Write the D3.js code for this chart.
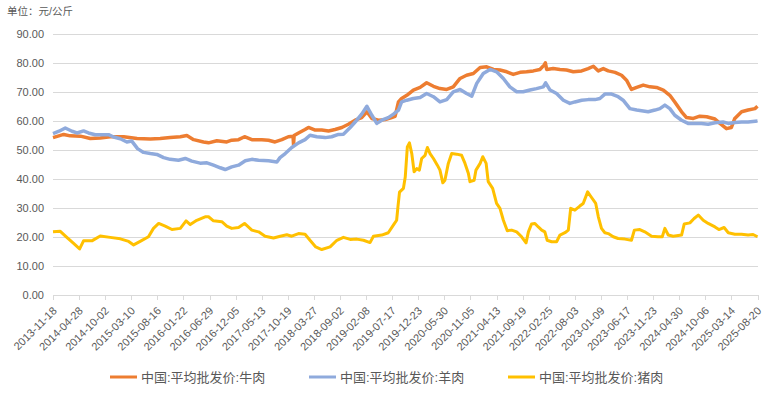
<!DOCTYPE html>
<html>
<head>
<meta charset="utf-8">
<script src="https://cdn.jsdelivr.net/npm/d3@7"></script>
<style>
    body { margin: 0; background: #fff; }
    text { font-family: "Liberation Sans", "Noto Sans CJK SC", sans-serif; fill: #595959; }
</style>
</head>
<body>
<script>

// tick labels on the category axis (one label every ~110 trading days)
var dateLabels = ["2013-11-18", "2014-04-28", "2014-10-02", "2015-03-10", "2015-08-16", "2016-01-22",
    "2016-06-29", "2016-12-05", "2017-05-13", "2017-10-19", "2018-03-27", "2018-09-02", "2019-02-08",
    "2019-07-17", "2019-12-23", "2020-05-30", "2020-11-05", "2021-04-13", "2021-09-19", "2022-02-25",
    "2022-08-03", "2023-01-09", "2023-06-17", "2023-11-23", "2024-04-30", "2024-10-06", "2025-03-14",
    "2025-08-20"];

var yTicks = [0, 10, 20, 30, 40, 50, 60, 70, 80, 90];

var seriesNames = ["中国:平均批发价:牛肉", "中国:平均批发价:羊肉", "中国:平均批发价:猪肉"];
var seriesColors = ["#ED7D31", "#8FAADC", "#FFC000"];

// [position in label steps, price]
var beef = [[0,54.1],[0.41,55.2],[0.66,54.7],[1.05,54.6],[1.43,53.8],[1.81,54.0],[2.19,54.4],[2.71,54.4],
    [3.22,53.8],[3.73,53.6],[4.11,53.8],[4.49,54.1],[4.88,54.4],[5.13,54.8],[5.39,53.4],[5.77,52.6],[5.96,52.3],
    [6.28,53.0],[6.66,52.6],[6.85,53.2],[7.11,53.4],[7.34,54.4],[7.62,53.4],[8.00,53.4],[8.26,53.2],[8.51,52.6],
    [8.77,53.4],[9.02,54.4],[9.20,54.6],[9.22,51.5],[9.24,54.8],[9.41,55.7],[9.66,56.9],[9.79,57.6],[10.05,56.7],
    [10.30,56.7],[10.56,56.4],[10.81,56.9],[11.07,57.6],[11.32,58.7],[11.58,60.1],[11.83,61.0],[12.03,63.0],
    [12.22,60.7],[12.47,60.1],[12.73,60.3],[12.98,61.0],[13.11,61.4],[13.24,66.4],[13.36,67.6],[13.56,68.7],
    [13.81,70.5],[14.07,71.4],[14.32,73.0],[14.58,71.8],[14.83,71.0],[15.09,70.7],[15.34,71.6],[15.60,74.5],
    [15.85,75.6],[16.11,76.2],[16.37,78.3],[16.62,78.5],[16.88,77.6],[17.13,77.4],[17.39,76.8],[17.64,75.9],
    [17.90,76.6],[18.15,76.8],[18.41,77.1],[18.66,77.6],[18.82,79.1],[18.87,79.9],[18.92,77.6],[19.17,77.9],
    [19.43,77.6],[19.68,77.4],[19.94,76.8],[20.26,77.1],[20.51,77.9],[20.71,78.7],[20.90,77.1],[21.09,77.9],
    [21.28,77.1],[21.54,76.6],[21.79,75.6],[21.98,73.9],[22.17,70.7],[22.37,71.4],[22.62,72.2],[22.88,71.6],
    [23.13,71.4],[23.39,70.5],[23.64,68.7],[23.83,66.4],[24.09,63.0],[24.28,61.0],[24.54,60.7],[24.79,61.5],
    [25.05,61.3],[25.37,60.5],[25.56,59.0],[25.81,57.2],[26.00,57.6],[26.13,60.7],[26.39,63.0],[26.64,63.6],
    [26.90,64.1],[27,64.9]];

var mutton = [[0,55.5],[0.23,56.3],[0.47,57.4],[0.73,56.3],[0.92,55.7],[1.17,56.4],[1.36,55.7],[1.62,55.1],
    [1.94,55.1],[2.13,55.1],[2.32,54.3],[2.58,53.7],[2.83,52.6],[3.02,52.9],[3.24,50.3],[3.47,49.0],[3.73,48.6],
    [3.98,48.3],[4.24,47.2],[4.49,46.6],[4.81,46.3],[5.07,46.9],[5.32,46.0],[5.64,45.3],[5.90,45.4],[6.15,44.6],
    [6.41,43.7],[6.60,43.1],[6.85,44.0],[7.11,44.6],[7.37,46.1],[7.62,46.6],[7.88,46.3],[8.26,46.1],[8.58,45.7],
    [8.70,47.2],[8.90,48.6],[9.15,50.7],[9.41,52.3],[9.66,53.4],[9.85,54.9],[10.11,54.4],[10.43,54.1],
    [10.68,54.4],[10.94,55.2],[11.13,55.3],[11.39,57.6],[11.64,60.1],[11.83,62.2],[12.03,64.9],[12.22,61.8],
    [12.41,59.0],[12.60,60.1],[12.85,61.0],[13.05,62.2],[13.24,63.6],[13.36,66.4],[13.56,67.0],[13.81,67.6],
    [14.07,67.9],[14.32,69.3],[14.58,68.2],[14.83,66.4],[15.09,67.2],[15.34,69.9],[15.60,70.7],[15.85,69.3],
    [16.05,68.4],[16.24,72.8],[16.49,76.2],[16.75,77.6],[17.00,76.8],[17.26,74.5],[17.51,71.6],[17.77,69.9],
    [18.02,69.9],[18.28,70.5],[18.53,71.0],[18.79,71.6],[18.88,73.0],[19.05,70.5],[19.30,69.3],[19.56,67.0],
    [19.81,65.9],[20.00,66.4],[20.26,67.0],[20.51,67.2],[20.77,67.2],[20.96,67.6],[21.15,69.1],[21.41,69.1],
    [21.66,68.2],[21.85,67.0],[22.11,64.1],[22.37,63.6],[22.62,63.3],[22.81,63.0],[23.07,63.6],[23.26,64.1],
    [23.45,65.3],[23.64,64.1],[23.83,61.8],[24.09,60.1],[24.34,59.0],[24.60,59.0],[24.85,59.0],[25.11,58.7],
    [25.37,59.2],[25.68,59.5],[25.88,59.0],[26.13,59.3],[26.39,59.5],[26.64,59.5],[27,59.8]];

var pork = [[0,21.6],[0.28,21.8],[0.53,19.7],[0.79,17.6],[1.02,15.7],[1.17,18.5],[1.49,18.5],[1.81,20.2],
    [2.19,19.7],[2.58,19.2],[2.90,18.3],[3.09,17.1],[3.34,18.3],[3.66,19.9],[3.85,22.8],[4.05,24.5],[4.30,23.6],
    [4.56,22.4],[4.88,22.8],[5.10,25.4],[5.26,24.1],[5.51,25.6],[5.83,26.8],[5.96,26.8],[6.15,25.4],[6.47,25.1],
    [6.66,23.6],[6.85,22.8],[7.11,23.1],[7.34,24.5],[7.62,22.2],[7.88,21.6],[8.13,20.1],[8.45,19.5],[8.71,20.1],
    [8.96,20.6],[9.15,20.1],[9.41,21.0],[9.66,20.8],[9.85,18.7],[10.07,16.4],[10.30,15.5],[10.62,16.4],
    [10.88,18.7],[11.13,19.7],[11.39,19.0],[11.64,19.1],[11.90,18.7],[12.15,17.9],[12.28,20.1],[12.60,20.5],
    [12.85,21.3],[13.05,24.0],[13.17,25.6],[13.22,30.2],[13.28,35.3],[13.43,36.6],[13.50,40.5],[13.58,50.9],
    [13.66,52.3],[13.75,48.6],[13.84,42.3],[13.94,43.4],[14.04,42.9],[14.13,46.9],[14.26,48.0],[14.35,50.7],
    [14.45,48.6],[14.58,46.9],[14.73,44.6],[14.83,42.9],[14.94,38.5],[15.02,39.4],[15.15,45.2],[15.28,48.6],
    [15.47,48.4],[15.66,48.0],[15.79,45.2],[15.92,41.7],[15.98,38.9],[16.14,39.4],[16.21,42.9],[16.37,45.2],
    [16.47,47.5],[16.60,45.2],[16.68,38.9],[16.85,36.6],[17.00,31.4],[17.13,29.7],[17.26,25.6],[17.41,22.0],
    [17.58,22.2],[17.77,21.6],[17.96,19.9],[18.13,17.8],[18.22,21.6],[18.34,24.3],[18.47,24.5],[18.60,23.3],
    [18.73,22.2],[18.85,21.6],[18.94,18.7],[19.11,18.2],[19.30,18.2],[19.43,20.5],[19.62,21.3],[19.75,22.2],
    [19.84,29.7],[20.00,29.1],[20.19,30.5],[20.32,31.4],[20.49,35.4],[20.62,33.7],[20.80,31.4],[20.90,26.8],
    [21.02,22.8],[21.15,21.3],[21.28,21.0],[21.47,19.9],[21.66,19.3],[21.92,19.1],[22.17,18.7],[22.28,22.2],
    [22.49,22.4],[22.68,21.6],[22.94,20.1],[23.19,19.9],[23.35,19.9],[23.45,22.8],[23.58,20.5],[23.77,20.1],
    [24.09,20.5],[24.19,24.3],[24.41,24.7],[24.57,26.2],[24.73,27.4],[24.92,25.6],[25.11,24.5],[25.37,23.3],
    [25.52,22.4],[25.72,23.1],[25.88,21.3],[26.13,20.8],[26.39,20.8],[26.64,20.5],[26.83,20.7],[27,19.9]];

var series = [beef, mutton, pork];

var width = 773, height = 395;
var plot = {left: 53, right: 757.5, top: 33.5, bottom: 294.5};

var svg = d3.select("body").append("svg")
    .attr("width", width)
    .attr("height", height);

var x = d3.scaleLinear()
    .domain([0, dateLabels.length - 1])
    .range([plot.left, plot.right]);

var y = d3.scaleLinear()
    .domain([0, 90])
    .range([plot.bottom, plot.top]);

// unit
svg.append("text")
    .attr("x", 7)
    .attr("y", 15)
    .style("font-size", "10.5px")
    .text("单位：元/公斤");

// y axis with gridlines
var yAxis = svg.append("g")
    .attr("transform", "translate(" + plot.left + ",0)")
    .call(d3.axisLeft(y)
        .tickValues(yTicks)
        .tickFormat(d3.format(".2f"))
        .tickSize(-(plot.right - plot.left))
        .tickPadding(9));
yAxis.select(".domain").remove();
yAxis.selectAll("line")
    .attr("stroke", "#D9D9D9")
    .attr("shape-rendering", "crispEdges");
yAxis.selectAll("text")
    .style("font-size", "11px")
    .style("fill", "#595959");

// x axis
var xAxis = svg.append("g")
    .attr("transform", "translate(0," + plot.bottom + ")")
    .call(d3.axisBottom(x)
        .tickValues(d3.range(dateLabels.length))
        .tickFormat(function (i) { return dateLabels[i]; })
        .tickSizeInner(5)
        .tickSizeOuter(0));
xAxis.select(".domain")
    .attr("stroke", "#D9D9D9")
    .attr("shape-rendering", "crispEdges");
xAxis.selectAll("line")
    .attr("stroke", "#D9D9D9")
    .attr("shape-rendering", "crispEdges");
xAxis.selectAll("text")
    .style("font-size", "11px")
    .style("fill", "#595959")
    .attr("text-anchor", "end")
    .attr("dy", null)
    .attr("y", 0)
    .attr("transform", "translate(4,17) rotate(-45)");

// lines
var line = d3.line()
    .x(function (d) { return x(d[0]); })
    .y(function (d) { return y(d[1]); });

svg.selectAll(".series")
    .data(series)
    .enter()
    .append("path")
    .attr("class", "series")
    .attr("fill", "none")
    .attr("stroke", function (d, i) { return seriesColors[i]; })
    .attr("stroke-width", function (d, i) { return i < 2 ? 3.5 : 3; })
    .attr("stroke-linejoin", "round")
    .attr("d", line);

// legend
var legend = svg.selectAll(".legend")
    .data(seriesNames)
    .enter()
    .append("g")
    .attr("class", "legend")
    .attr("transform", function (d, i) { return "translate(" + (110 + i * 199) + ",377)"; });

legend.append("line")
    .attr("x1", 0)
    .attr("x2", 27)
    .attr("y1", 0)
    .attr("y2", 0)
    .attr("stroke", function (d, i) { return seriesColors[i]; })
    .attr("stroke-width", 3);

legend.append("text")
    .attr("x", 31)
    .attr("y", 4.5)
    .style("font-size", "13px")
    .text(function (d) { return d; });

</script>
</body>
</html>
